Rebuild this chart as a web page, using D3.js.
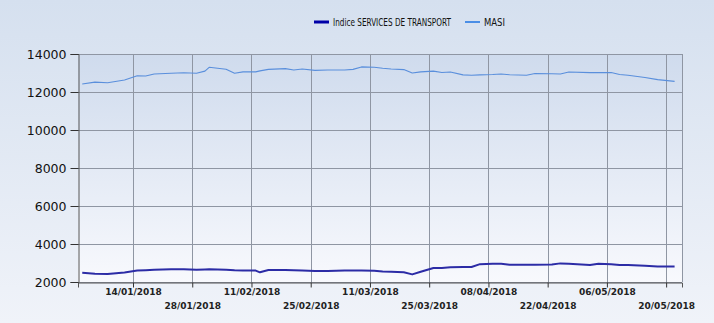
<!DOCTYPE html>
<html>
<head>
<meta charset="utf-8">
<script src="https://cdn.jsdelivr.net/npm/d3@7"></script>
<style>
  body { margin: 0; }
  svg { display: block; }
</style>
</head>
<body>
<script>
var dates = ["02/01/2018","05/01/2018","08/01/2018","12/01/2018","15/01/2018","17/01/2018","19/01/2018",
  "23/01/2018","26/01/2018","29/01/2018","31/01/2018","01/02/2018","05/02/2018","07/02/2018","09/02/2018",
  "12/02/2018","13/02/2018","15/02/2018","19/02/2018","21/02/2018","23/02/2018","26/02/2018","01/03/2018",
  "05/03/2018","07/03/2018","09/03/2018","12/03/2018","14/03/2018","16/03/2018","19/03/2018","21/03/2018",
  "23/03/2018","26/03/2018","28/03/2018","30/03/2018","02/04/2018","04/04/2018","06/04/2018","09/04/2018",
  "11/04/2018","13/04/2018","17/04/2018","19/04/2018","23/04/2018","25/04/2018","27/04/2018","02/05/2018",
  "04/05/2018","07/05/2018","09/05/2018","11/05/2018","15/05/2018","18/05/2018","22/05/2018"];

var transport = [2490,2440,2420,2500,2600,2620,2640,2670,2670,2640,2660,2670,2650,2620,2600,2600,2510,2630,
  2630,2620,2600,2580,2580,2600,2600,2600,2590,2550,2540,2510,2400,2540,2740,2740,2780,2790,2790,2940,2960,
  2960,2910,2910,2910,2920,2980,2960,2900,2960,2940,2890,2890,2850,2810,2820];

var masi = [12420,12520,12490,12630,12850,12840,12950,12990,13010,12990,13100,13300,13200,12990,13060,13060,
  13110,13190,13230,13160,13210,13140,13160,13160,13190,13320,13300,13250,13210,13180,13000,13060,13100,13030,
  13050,12900,12880,12900,12920,12950,12910,12880,12970,12960,12950,13050,13020,13020,13030,12920,12880,12760,
  12650,12560];

var yTicks = [2000, 4000, 6000, 8000, 10000, 12000, 14000];
var xTicks = ["14/01/2018","28/01/2018","11/02/2018","25/02/2018","11/03/2018","25/03/2018",
  "08/04/2018","22/04/2018","06/05/2018","20/05/2018"];

var parseDate = d3.timeParse("%d/%m/%Y");
var width = 714, height = 323;
var margin = { top: 54, right: 32, bottom: 41, left: 78 };
var w = width - margin.left - margin.right,
    h = height - margin.top - margin.bottom;

var svg = d3.select("body").append("svg")
  .attr("width", width)
  .attr("height", height);

var defs = svg.append("defs");
var bg = defs.append("linearGradient").attr("id", "bg").attr("x1", 0).attr("y1", 0).attr("x2", 0).attr("y2", 1);
bg.append("stop").attr("offset", "0%").attr("stop-color", "#d5e0ef");
bg.append("stop").attr("offset", "100%").attr("stop-color", "#f0f3f9");
var pg = defs.append("linearGradient").attr("id", "pg").attr("x1", 0).attr("y1", 0).attr("x2", 0).attr("y2", 1);
pg.append("stop").attr("offset", "0%").attr("stop-color", "#cfdbed");
pg.append("stop").attr("offset", "100%").attr("stop-color", "#f8f9fd");

svg.append("rect").attr("width", width).attr("height", height).attr("fill", "url(#bg)");

var g = svg.append("g")
  .attr("transform", "translate(" + margin.left + "," + margin.top + ")");

var x = d3.scaleTime()
  .domain([parseDate("01/01/2018"), d3.timeHour.offset(parseDate("23/05/2018"), 18)])
  .range([0, w]);
var y = d3.scaleLinear().domain([2000, 14000]).range([h, 0]);

g.append("rect").attr("width", w).attr("height", h).attr("fill", "url(#pg)");

// grid
g.append("g")
  .selectAll("line").data(yTicks).enter().append("line")
  .attr("x1", 0).attr("x2", w)
  .attr("y1", function(d) { return Math.round(y(d)) + 0.5 })
  .attr("y2", function(d) { return Math.round(y(d)) + 0.5 })
  .attr("stroke", "#8f96a3").attr("stroke-width", 1);

g.append("g")
  .selectAll("line").data(xTicks).enter().append("line")
  .attr("x1", function(d) { return Math.round(x(parseDate(d))) + 0.5 })
  .attr("x2", function(d) { return Math.round(x(parseDate(d))) + 0.5 })
  .attr("y1", 0).attr("y2", h)
  .attr("stroke", "#8f96a3").attr("stroke-width", 1);

g.append("line").attr("x1", w + 0.5).attr("x2", w + 0.5).attr("y1", 0).attr("y2", h)
  .attr("stroke", "#8f96a3");

// lines
var series = [
  { name: "MASI", values: masi, color: "#5a8fdc", width: 1.1 },
  { name: "Indice SERVICES DE TRANSPORT", values: transport, color: "#2c2ca6", width: 2 }
];

var line = d3.line()
  .x(function(d) { return x(d.date) })
  .y(function(d) { return y(d.value) });

series.forEach(function(s) {
  var pts = dates.map(function(d, i) { return { date: parseDate(d), value: s.values[i] } });
  g.append("path")
    .datum(pts)
    .attr("fill", "none")
    .attr("stroke", s.color)
    .attr("stroke-width", s.width)
    .attr("stroke-linejoin", "round")
    .attr("d", line);
});

// axes
var yAxis = g.append("g")
  .attr("transform", "translate(0.5,0)")
  .call(d3.axisLeft(y).tickValues(yTicks).tickSize(8).tickPadding(4).tickFormat(d3.format("d")));
yAxis.selectAll("text")
  .attr("font-family", "DejaVu Sans, Verdana, sans-serif")
  .attr("font-size", "12.5px")
  .attr("fill", "#111");

var xAxis = g.append("g")
  .attr("transform", "translate(0," + (h + 0.5) + ")")
  .call(d3.axisBottom(x).tickValues(xTicks.map(parseDate)).tickSize(5).tickFormat(d3.timeFormat("%d/%m/%Y")));
xAxis.selectAll("text")
  .attr("font-family", "DejaVu Sans, Verdana, sans-serif")
  .attr("font-size", "9px")
  .attr("font-weight", "bold")
  .attr("fill", "#222")
  .attr("dy", function(d, i) { return i % 2 ? "2.3em" : "0.75em" })
  .attr("y", 6);

svg.selectAll(".domain").attr("stroke", "#555");
svg.selectAll(".tick line").attr("stroke", "#333");

// legend - text squeezed horizontally to the narrow look of the original
var legend = svg.append("g").attr("transform", "translate(0,22)");
var legendItems = [
  { name: "Indice SERVICES DE TRANSPORT", color: "#0000a8", sw: 3, x: 314, tw: 118 },
  { name: "MASI", color: "#4a8ee6", sw: 2, x: 465, tw: 21 }
];
legendItems.forEach(function(d) {
  legend.append("line")
    .attr("x1", d.x).attr("x2", d.x + 15)
    .attr("stroke", d.color).attr("stroke-width", d.sw);
  var t = legend.append("text")
    .attr("y", 4)
    .attr("font-family", "DejaVu Sans Condensed, Liberation Sans Narrow, sans-serif")
    .attr("font-size", "11px")
    .attr("fill", "#111")
    .text(d.name);
  var k = d.tw / t.node().getComputedTextLength();
  t.attr("transform", "translate(" + (d.x + 19) + ",0) scale(" + k + ",1)");
});
</script>
</body>
</html>
